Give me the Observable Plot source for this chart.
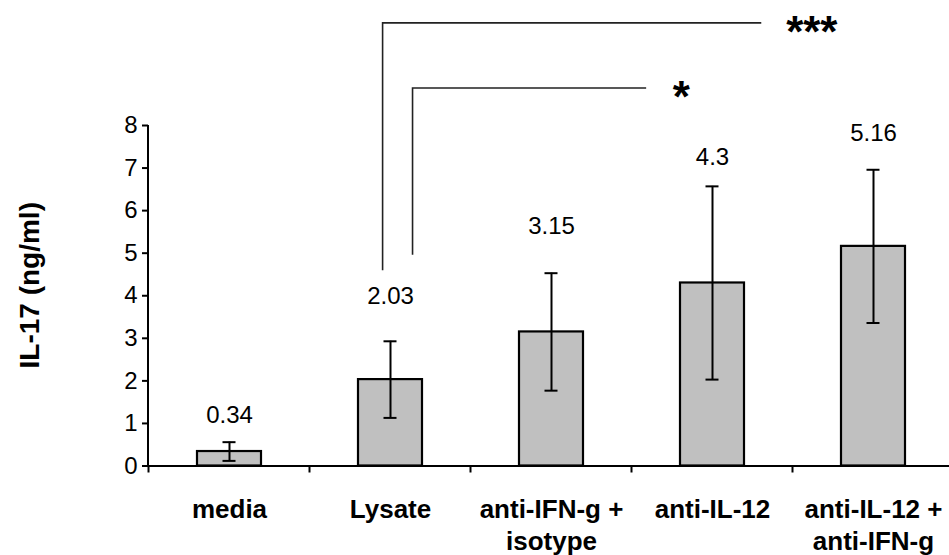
<!DOCTYPE html>
<html>
<head>
<meta charset="utf-8">
<script src="https://cdn.jsdelivr.net/npm/d3@7"></script>
<script src="https://cdn.jsdelivr.net/npm/@observablehq/plot@0.6"></script>
<style>
  html, body { margin: 0; padding: 0; background: #fff; }
  #chart { width: 949px; height: 555px; }
</style>
</head>
<body>
<div id="chart"></div>
<script>
// ---- data ----
const categories = ["media", "Lysate", "anti-IFN-g +\nisotype", "anti-IL-12", "anti-IL-12 +\nanti-IFN-g"];
const means = [0.34, 2.03, 3.15, 4.3, 5.16];
const errors = [0.22, 0.90, 1.38, 2.27, 1.80];
const valueLabels = ["0.34", "2.03", "3.15", "4.3", "5.16"];
const yTicks = [0, 1, 2, 3, 4, 5, 6, 7, 8];
const yLabel = "IL-17 (ng/ml)";
// significance brackets: compare Lysate with two groups
const sigFrom = ["Lysate", "Lysate"];
const sigTo = ["anti-IL-12 + anti-IFN-g", "anti-IL-12"];
const sigStars = ["***", "*"];

// ---- layout (annotation placement, in data units / band steps) ----
const labelPos = [1.19, 3.99, 5.63, 7.26, 7.81];
const sigLevel = [10.4, 8.87];
const sigDrop = [4.59, 4.95];
const sigLeftOff = [-0.046, 0.14];
const sigRightOff = [-0.694, -0.409];
const sigStarOff = [-0.38, -0.19];

const rows = categories.map((c, i) => ({
  cat: c, mean: means[i], lo: means[i] - errors[i], hi: means[i] + errors[i],
  label: valueLabels[i], ly: labelPos[i]
}));
const catKey = s => s.replace(/\n/g, " ");
const catByKey = new Map(categories.map(c => [catKey(c), c]));

const font = "'Liberation Sans', Arial, Helvetica, sans-serif";

const plot = Plot.plot({
  width: 949,
  height: 555,
  marginLeft: 148,
  marginRight: 0,
  marginTop: 125,
  marginBottom: 89.5,
  style: {fontFamily: font, color: "#000", background: "#fff", overflow: "visible"},
  x: {domain: categories, range: [148, 955], paddingInner: 0.6, paddingOuter: 0.3, axis: null},
  y: {domain: [0, 8], range: [465.5, 125], axis: null},
  marks: [
    Plot.barY(rows, {x: "cat", y: "mean", fill: "#c0c0c0", stroke: "#000", strokeWidth: 2.2}),
    Plot.ruleX(rows, {x: "cat", y1: "lo", y2: "hi", stroke: "#000", strokeWidth: 2}),
    Plot.tickY(rows, {x: "cat", y: "lo", stroke: "#000", strokeWidth: 2, insetLeft: 25.5, insetRight: 25.5}),
    Plot.tickY(rows, {x: "cat", y: "hi", stroke: "#000", strokeWidth: 2, insetLeft: 25.5, insetRight: 25.5}),
    Plot.text(rows, {x: "cat", y: "ly", text: "label", fontSize: 24, fill: "#000"}),
    Plot.ruleY([0], {stroke: "#000", strokeWidth: 2}),
    Plot.axisY(yTicks, {tickSize: 6, tickPadding: 5, fontSize: 24, label: null, stroke: "#000", strokeWidth: 2, fill: "#000"}),
    Plot.text(categories, {x: d => d, y: () => 0, text: d => d, dy: 29, lineAnchor: "top",
      fontSize: 26, fontWeight: "bold", lineHeight: 1.23, fill: "#000"})
  ]
});

document.getElementById("chart").appendChild(plot);

// extra axis lines, ticks, label and brackets from the Plot scales
const sx = plot.scale("x"), sy = plot.scale("y");
const center = c => sx.apply(c) + sx.bandwidth / 2;
const svg = d3.select(plot);
const g = svg.append("g").attr("stroke", "#000").attr("fill", "none");

// y axis line
g.append("line").attr("x1", sx.range[0]).attr("x2", sx.range[0])
  .attr("y1", sy.apply(0)).attr("y2", sy.apply(8)).attr("stroke-width", 2);
// x ticks at category boundaries
categories.forEach(c => {
  const bx = sx.apply(c) - (sx.step - sx.bandwidth) / 2;
  g.append("line").attr("x1", bx).attr("x2", bx)
    .attr("y1", sy.apply(0)).attr("y2", sy.apply(0) + 7).attr("stroke-width", 2);
});

// y label
svg.append("text")
  .attr("transform", `translate(29,${(sy.apply(0) + sy.apply(8)) / 2 - 10}) rotate(-90)`)
  .attr("text-anchor", "middle").attr("dominant-baseline", "central")
  .attr("font-family", font).attr("font-weight", "bold").attr("font-size", 28)
  .attr("fill", "#000").text(yLabel);

// significance brackets
sigFrom.forEach((f, i) => {
  const a = catByKey.get(f), b = catByKey.get(sigTo[i]);
  const xl = center(a) + sigLeftOff[i] * sx.step;
  const xr = center(b) + sigRightOff[i] * sx.step;
  const yt = sy.apply(sigLevel[i]), yb = sy.apply(sigDrop[i]);
  g.append("path").attr("d", `M${xl},${yb}V${yt}H${xr}`)
    .attr("stroke", "#222").attr("stroke-width", 1.6);
  svg.append("text")
    .attr("x", center(b) + sigStarOff[i] * sx.step).attr("y", yt)
    .attr("dy", "0.55em")
    .attr("text-anchor", "middle").attr("font-family", font)
    .attr("font-weight", "bold").attr("font-size", 44).attr("fill", "#000")
    .text(sigStars[i]);
});
</script>
</body>
</html>
